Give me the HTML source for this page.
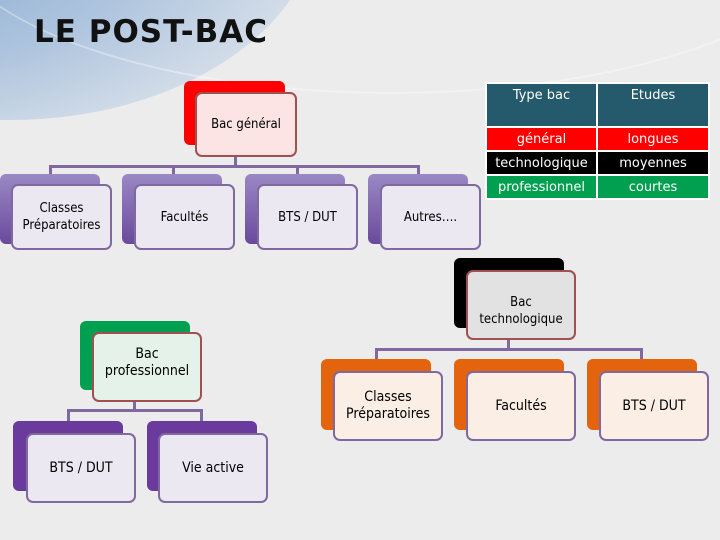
<!DOCTYPE html>
<html><head><meta charset="utf-8"><style>
body{margin:0;width:720px;height:540px;overflow:hidden;position:relative;background:#ececec;font-family:"DejaVu Sans Condensed","Liberation Sans",sans-serif;}
.sw{position:absolute;border-radius:50%;}
.b{position:absolute;border-radius:6px;}
.f{position:absolute;border-radius:7px;border:2px solid #8068a0;box-sizing:border-box;display:flex;align-items:center;justify-content:center;text-align:center;font-size:13px;line-height:17px;color:#000;}
.l{position:absolute;background:#8068a0;}
table{position:absolute;left:485px;top:82px;border-collapse:separate;border-spacing:2px;font-family:"DejaVu Sans","Liberation Sans",sans-serif;font-size:13px;color:#fff;background:#fff;}
td{text-align:center;padding:0;}
</style></head><body>
<div class="sw" style="left:-300px;top:-300px;width:620px;height:420px;background:radial-gradient(ellipse at 25% 55%,#6a96c8 0%,#a4bedc 45%,#d8e0ea 75%,rgba(236,236,236,0) 100%);opacity:0.85;"></div>
<div class="sw" style="left:-60px;top:-250px;width:900px;height:340px;border:2px solid rgba(255,255,255,0.35);"></div>
<div style="position:absolute;left:34px;top:14px;font-family:'DejaVu Sans','Liberation Sans',sans-serif;font-weight:bold;font-size:31px;color:#111;letter-spacing:1px;">LE POST-BAC</div>

<table>
<tr><td style="background:#245a6b;width:109px;height:38px;vertical-align:top;padding-top:4px;">Type bac</td><td style="background:#245a6b;width:110px;vertical-align:top;padding-top:4px;">Etudes</td></tr>
<tr><td style="background:#fe0000;height:22px;">général</td><td style="background:#fe0000;">longues</td></tr>
<tr><td style="background:#000;height:22px;">technologique</td><td style="background:#000;">moyennes</td></tr>
<tr><td style="background:#00a050;height:22px;">professionnel</td><td style="background:#00a050;">courtes</td></tr>
</table>

<div class="l" style="left:234px;top:156px;width:3px;height:11px;"></div>
<div class="l" style="left:49px;top:165px;width:371px;height:3px;"></div>
<div class="l" style="left:49px;top:165px;width:3px;height:10px;"></div>
<div class="l" style="left:172px;top:165px;width:3px;height:10px;"></div>
<div class="l" style="left:296px;top:165px;width:3px;height:10px;"></div>
<div class="l" style="left:417px;top:165px;width:3px;height:10px;"></div>
<div class="b" style="left:184px;top:81px;width:101px;height:64px;background:#fe0000;"></div>
<div class="f" style="left:195px;top:92px;width:102px;height:65px;background:#fde4e4;border-color:#a05050;">Bac général</div>
<div class="b" style="left:0;top:174px;width:100px;height:70px;background:linear-gradient(#9a88c4,#6a4a9c);"></div>
<div class="f" style="left:11px;top:184px;width:101px;height:66px;background:#ece8f2;">Classes<br>Préparatoires</div>
<div class="b" style="left:122px;top:174px;width:100px;height:70px;background:linear-gradient(#9a88c4,#6a4a9c);"></div>
<div class="f" style="left:134px;top:184px;width:101px;height:66px;background:#ece8f2;">Facultés</div>
<div class="b" style="left:245px;top:174px;width:100px;height:70px;background:linear-gradient(#9a88c4,#6a4a9c);"></div>
<div class="f" style="left:257px;top:184px;width:101px;height:66px;background:#ece8f2;">BTS / DUT</div>
<div class="b" style="left:368px;top:174px;width:100px;height:70px;background:linear-gradient(#9a88c4,#6a4a9c);"></div>
<div class="f" style="left:380px;top:184px;width:101px;height:66px;background:#ece8f2;">Autres….</div>

<div class="l" style="left:507px;top:339px;width:3px;height:11px;"></div>
<div class="l" style="left:375px;top:348px;width:268px;height:3px;"></div>
<div class="l" style="left:375px;top:348px;width:3px;height:12px;"></div>
<div class="l" style="left:640px;top:348px;width:3px;height:12px;"></div>
<div class="b" style="left:454px;top:258px;width:110px;height:70px;background:#000;"></div>
<div class="f" style="left:466px;top:270px;width:110px;height:70px;background:#e2e2e2;border-color:#a05050;padding-top:12px;">Bac<br>technologique</div>
<div class="b" style="left:321px;top:359px;width:110px;height:71px;background:#e4640e;"></div>
<div class="f" style="left:333px;top:371px;width:110px;height:70px;background:#fbeee4;font-size:14px;">Classes<br>Préparatoires</div>
<div class="b" style="left:454px;top:359px;width:110px;height:71px;background:#e4640e;"></div>
<div class="f" style="left:466px;top:371px;width:110px;height:70px;background:#fbeee4;font-size:14px;">Facultés</div>
<div class="b" style="left:587px;top:359px;width:110px;height:71px;background:#e4640e;"></div>
<div class="f" style="left:599px;top:371px;width:110px;height:70px;background:#fbeee4;font-size:14px;">BTS / DUT</div>

<div class="l" style="left:133px;top:401px;width:3px;height:10px;"></div>
<div class="l" style="left:67px;top:409px;width:136px;height:3px;"></div>
<div class="l" style="left:67px;top:409px;width:3px;height:12px;"></div>
<div class="l" style="left:200px;top:409px;width:3px;height:12px;"></div>
<div class="b" style="left:80px;top:321px;width:110px;height:69px;background:#00a050;"></div>
<div class="f" style="left:92px;top:332px;width:110px;height:70px;background:#e4f2ea;border-color:#a05050;padding-bottom:8px;font-size:14px;">Bac<br>professionnel</div>
<div class="b" style="left:13px;top:421px;width:110px;height:70px;background:#6a3a9c;"></div>
<div class="f" style="left:26px;top:433px;width:110px;height:70px;background:#ece8f2;font-size:14px;">BTS / DUT</div>
<div class="b" style="left:147px;top:421px;width:110px;height:70px;background:#6a3a9c;"></div>
<div class="f" style="left:158px;top:433px;width:110px;height:70px;background:#ece8f2;font-size:14px;">Vie active</div>
</body></html>
